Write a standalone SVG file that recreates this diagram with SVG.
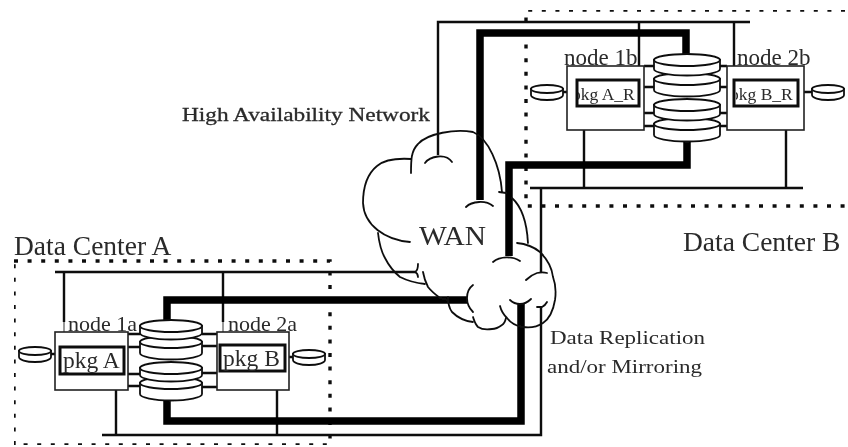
<svg xmlns="http://www.w3.org/2000/svg" width="848" height="447" viewBox="0 0 848 447">
<style>
text{font-family:"Liberation Serif",serif;fill:#2a2a2a}
.t{fill:none;stroke:#111;stroke-width:2.4}
.w{fill:none;stroke:#000;stroke-width:7.5}
.g{fill:none;stroke:#999;stroke-width:2}
.n{fill:#fff;stroke:#222;stroke-width:1.6}
.p{fill:#fff;stroke:#111;stroke-width:3}
.c{fill:none;stroke:#111;stroke-width:1.8;stroke-linecap:round}
.d{fill:none;stroke:#111;stroke-width:3.4;stroke-dasharray:4 9.6}
.k{fill:#fff;stroke:#111;stroke-width:1.8}
</style>
<defs>
<clipPath id="cA"><rect x="578" y="82" width="60" height="23"/></clipPath>
<clipPath id="cB"><rect x="736" y="82" width="61" height="23"/></clipPath>
<g id="drum"><path class="k" d="M0 0V11A31 6.5 0 0 0 62 11V0Z"/><ellipse class="k" cx="31" cy="0" rx="31" ry="6"/></g>
<g id="drumS"><path class="k" d="M0 0V7A31 6.5 0 0 0 62 7V0Z"/><ellipse class="k" cx="31" cy="0" rx="31" ry="6"/></g>
<g id="drumW"><path class="k" d="M0 0V11A33 6.5 0 0 0 66 11V0Z"/><ellipse class="k" cx="33" cy="0" rx="33" ry="6"/></g>
<g id="drumWS"><path class="k" d="M0 0V9A33 6.5 0 0 0 66 9V0Z"/><ellipse class="k" cx="33" cy="0" rx="33" ry="6"/></g>
<g id="mini"><path class="k" d="M0 0V6A16 5 0 0 0 32 6V0Z"/><ellipse class="k" cx="16" cy="0" rx="16" ry="4" fill="#bbb"/></g>
<filter id="soft" x="0" y="0" width="100%" height="100%"><feGaussianBlur stdDeviation="0.55"/></filter>
</defs>
<rect width="848" height="447" fill="#fff"/>
<g filter="url(#soft)">
<g id="dataCenters">
<path class="d" d="M14 261H330V445H14Z"/>
<path class="d" d="M845 10H526V206H845"/>
</g>
<g id="connectors">
<path class="t" d="M55 272H415M64 272V322M223 272V322"/>
<path class="t" d="M102 435H541V306M116 390V435M277 390V435"/>
<path class="w" d="M467 300H167V325M167 395V421H521V304"/>
<path class="t" d="M438 155V22H750M639 22V66M734 22V66"/>
<path class="t" d="M530 188H803M541 188V273M584 130V188M786 130V188"/>
<path class="w" d="M480 200V33H686V60M687 135V165H509V256"/>
<path class="g" d="M64 322V342M223 322V340M116 378V390M277 376V390M639 66V78M734 66V78M584 117V130M786 117V130"/>
<path class="t" d="M128 334H140M128 347H140M128 374H140M128 386H140M202 334H217M202 346H217M202 373H217M202 387H217"/>
<path class="t" d="M644 66H655M644 87H655M644 113H655M644 126H655M719 66H727M719 87H727M719 113H727M719 126H727"/>
<path class="t" d="M51 354H55M289 357H293M563 92H567M804 92H812"/>
</g>
<g id="wan">
<path class="c" d="M411 159C395 158 384 160 377 166C366 175 363 190 363 203C364 225 385 240 410 242"/>
<path class="c" d="M411 173C411 160 411 151 418 144C428 133 455 129 473 132C488 138 500 165 502 192"/>
<path class="c" d="M499 192L506 193M512 198C522 207 527 225 528 243"/>
<path class="c" d="M517 243C527 244 534 247 540 252C548 260 552 268 553 277C556 285 556 293 555 300C553 312 549 319 543 323C537 327 530 328 523 327C515 326 510 322 507 318C503 314 501 310 500 306"/>
<path class="c" d="M506 318C505 322 504 324 502 325C498 328 495 329 492 329C486 330 481 329 478 327C475 324 474 320 473 317"/>
<path class="c" d="M473 322C464 321 457 317 452 312C449 308 448 302 448 297"/>
<path class="c" d="M473 285C469 288 467 293 467 298C467 304 470 309 473 312"/>
<path class="c" d="M378 233C379 242 381 251 385 258C389 266 394 272 400 277C408 281 416 283 425 284"/>
<path class="c" d="M423 272C424 278 426 283 428 287C432 292 436 295 440 298L448 300"/>
<path class="c" d="M418 264C418 268 417 271 415 272C417 273 418 275 418 277"/>
<path class="c" d="M425 163C430 156 446 153 452 162M466 207C472 201 486 200 493 206M493 262C500 256 513 256 520 261M526 280C530 276 534 274 537 273C541 272 544 272 547 273M510 300C514 304 517 304 520 304C524 304 528 302 531 299M537 307C539 307 541 307 542 307C544 306 546 304 547 302"/>
<text x="419" y="245" font-size="28" textLength="67" lengthAdjust="spacingAndGlyphs">WAN</text>
</g>
<g id="node1a"><rect class="n" x="55" y="332" width="73" height="58"/><rect class="p" x="60" y="347" width="64" height="27"/><text x="68" y="331" font-size="22">node 1a</text><text x="63" y="368" font-size="23.5">pkg A</text></g>
<g id="node2a"><rect class="n" x="217" y="332" width="72" height="58"/><rect class="p" x="220" y="345" width="65" height="26"/><text x="228" y="331" font-size="22">node 2a</text><text x="223" y="366" font-size="23.5">pkg B</text></g>
<g id="disksA"><use href="#drum" x="140" y="342"/><use href="#drumS" x="140" y="326"/><use href="#drum" x="140" y="383"/><use href="#drumS" x="140" y="368"/></g>
<g id="node1b"><rect class="n" x="567" y="66" width="77" height="64"/><rect class="p" x="577" y="80" width="62" height="26"/><text x="564" y="65" font-size="23">node 1b</text><text x="572" y="100" font-size="17.5" clip-path="url(#cA)">pkg A_R</text></g>
<g id="node2b"><rect class="n" x="727" y="66" width="77" height="64"/><rect class="p" x="734" y="80" width="64" height="26"/><text x="737" y="65" font-size="23">node 2b</text><text x="730" y="100" font-size="17.5" clip-path="url(#cB)">pkg B_R</text></g>
<g id="disksB"><use href="#drumW" x="654" y="79"/><use href="#drumWS" x="654" y="60"/><use href="#drumW" x="654" y="124"/><use href="#drumWS" x="654" y="105"/></g>
<g id="miniDisks"><use href="#mini" x="19" y="351"/><use href="#mini" x="293" y="354"/><use href="#mini" x="531" y="89"/><use href="#mini" x="812" y="89"/></g>
<g id="labels">
<text x="182" y="121" font-size="19" textLength="248" lengthAdjust="spacingAndGlyphs" stroke="#2a2a2a" stroke-width=".3">High Availability Network</text>
<text x="14" y="255" font-size="27.5">Data Center A</text>
<text x="683" y="251" font-size="27.5">Data Center B</text>
<text x="550" y="344" font-size="19" textLength="155" lengthAdjust="spacingAndGlyphs">Data Replication</text>
<text x="547" y="373" font-size="19" textLength="155" lengthAdjust="spacingAndGlyphs">and/or Mirroring</text>
</g>
</g>
</svg>
